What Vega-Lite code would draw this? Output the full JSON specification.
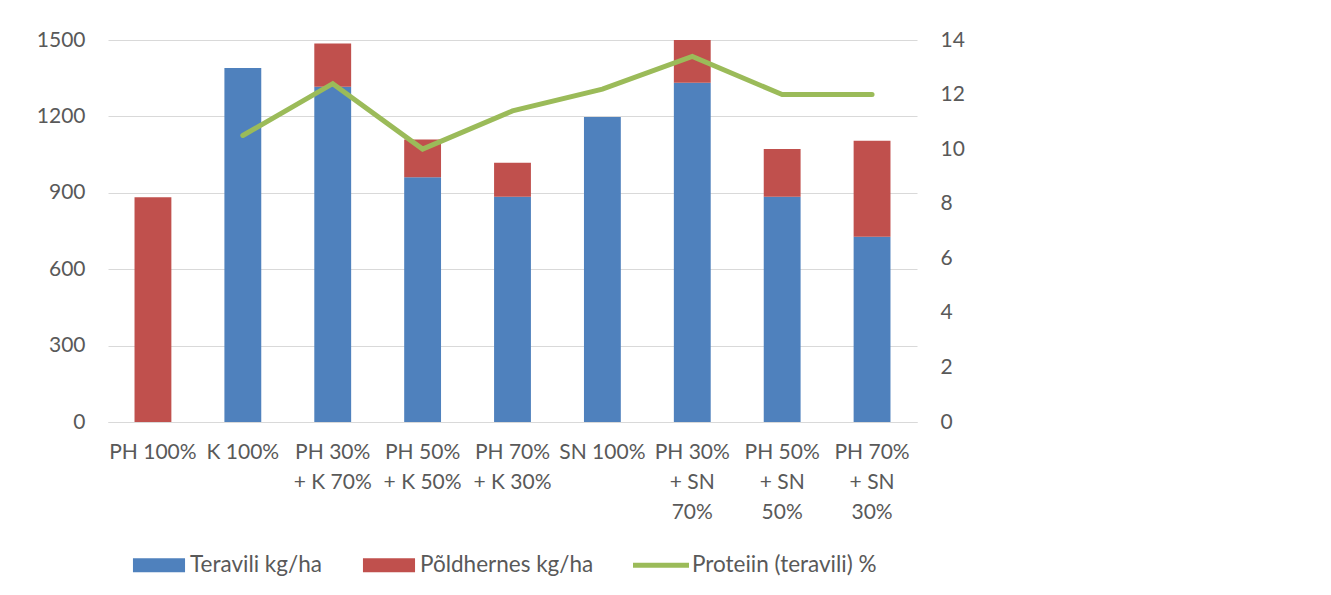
{
  "$schema": "https://vega.github.io/schema/vega-lite/v6.json",
  "width": 809,
  "height": 382,
  "autosize": {"type": "none"},
  "padding": {"left": 108, "top": 40, "right": 414, "bottom": 173},
  "background": "white",
  "config": {
    "view": {"stroke": null},
    "font": "Lato",
    "axis": {"labelFont": "Lato", "labelColor": "#595959", "labelFontSize": 21, "ticks": false, "title": null},
    "legend": {"labelFont": "Lato", "labelColor": "#595959", "labelFontSize": 22.5, "labelLimit": 0}
  },
  "datasets": {
    "bars": [
      {"cat": "PH 100%", "series": "Teravili kg/ha", "value": 0},
      {"cat": "PH 100%", "series": "Põldhernes kg/ha", "value": 883},
      {"cat": "K 100%", "series": "Teravili kg/ha", "value": 1390},
      {"cat": "K 100%", "series": "Põldhernes kg/ha", "value": 0},
      {"cat": "PH 30% + K 70%", "series": "Teravili kg/ha", "value": 1316},
      {"cat": "PH 30% + K 70%", "series": "Põldhernes kg/ha", "value": 170},
      {"cat": "PH 50% + K 50%", "series": "Teravili kg/ha", "value": 961},
      {"cat": "PH 50% + K 50%", "series": "Põldhernes kg/ha", "value": 148},
      {"cat": "PH 70% + K 30%", "series": "Teravili kg/ha", "value": 884},
      {"cat": "PH 70% + K 30%", "series": "Põldhernes kg/ha", "value": 134},
      {"cat": "SN 100%", "series": "Teravili kg/ha", "value": 1198},
      {"cat": "SN 100%", "series": "Põldhernes kg/ha", "value": 0},
      {"cat": "PH 30% + SN 70%", "series": "Teravili kg/ha", "value": 1332},
      {"cat": "PH 30% + SN 70%", "series": "Põldhernes kg/ha", "value": 168},
      {"cat": "PH 50% + SN 50%", "series": "Teravili kg/ha", "value": 884},
      {"cat": "PH 50% + SN 50%", "series": "Põldhernes kg/ha", "value": 188},
      {"cat": "PH 70% + SN 30%", "series": "Teravili kg/ha", "value": 727},
      {"cat": "PH 70% + SN 30%", "series": "Põldhernes kg/ha", "value": 377}
    ],
    "protein": [
      {"cat": "K 100%", "value": 10.5},
      {"cat": "PH 30% + K 70%", "value": 12.4},
      {"cat": "PH 50% + K 50%", "value": 10.0},
      {"cat": "PH 70% + K 30%", "value": 11.4},
      {"cat": "SN 100%", "value": 12.2},
      {"cat": "PH 30% + SN 70%", "value": 13.4},
      {"cat": "PH 50% + SN 50%", "value": 12.0},
      {"cat": "PH 70% + SN 30%", "value": 12.0}
    ]
  },
  "encoding": {
    "x": {
      "field": "cat",
      "type": "nominal",
      "scale": {
        "domain": ["PH 100%", "K 100%", "PH 30% + K 70%", "PH 50% + K 50%", "PH 70% + K 30%", "SN 100%", "PH 30% + SN 70%", "PH 50% + SN 50%", "PH 70% + SN 30%"],
        "paddingInner": 0.59,
        "paddingOuter": 0.295
      },
      "axis": {
        "labelAngle": 0,
        "labelPadding": 19,
        "labelLineHeight": 30,
        "labelBaseline": "top",
        "domainColor": "#D9D9D9",
        "domainWidth": 1,
        "labelExpr": "indexof(datum.label, ' + ') < 0 ? datum.label : (indexof(datum.label, 'SN') >= 0 ? [slice(datum.label, 0, 6), '+ SN', slice(datum.label, -3)] : [slice(datum.label, 0, 6), slice(datum.label, 7)])"
      }
    }
  },
  "layer": [
    {
      "data": {"name": "bars"},
      "mark": {"type": "bar"},
      "encoding": {
        "y": {
          "field": "value",
          "type": "quantitative",
          "stack": "zero",
          "scale": {"domain": [0, 1500], "nice": false},
          "axis": {"orient": "left", "values": [0, 300, 600, 900, 1200, 1500], "format": "d", "domain": false, "gridColor": "#D9D9D9", "labelPadding": 23}
        },
        "color": {
          "field": "series",
          "type": "nominal",
          "scale": {
            "domain": ["Teravili kg/ha", "Põldhernes kg/ha", "Proteiin (teravili) %"],
            "range": ["#4F81BD", "#C0504D", "#9BBB59"]
          },
          "legend": {
            "title": null,
            "orient": "none",
            "legendX": 23,
            "legendY": 497,
            "direction": "horizontal",
            "columns": 3,
            "padding": 0,
            "columnPadding": 39,
            "labelOffset": 3,
            "symbolSize": 3136,
            "symbolStrokeWidth": 0,
            "symbolOpacity": 1,
            "symbolType": {"expr": "datum.value == 'Proteiin (teravili) %' ? 'M-1,-0.09L1,-0.09L1,0.09L-1,0.09Z' : 'M-0.93,-0.25L0.93,-0.25L0.93,0.25L-0.93,0.25Z'"}
          }
        },
        "order": {"field": "series", "sort": "descending"}
      }
    },
    {
      "data": {"name": "protein"},
      "mark": {"type": "line", "color": "#9BBB59", "strokeWidth": 5, "strokeCap": "round", "strokeJoin": "miter"},
      "encoding": {
        "y": {
          "field": "value",
          "type": "quantitative",
          "scale": {"domain": [0, 14], "nice": false},
          "axis": {"orient": "right", "values": [0, 2, 4, 6, 8, 10, 12, 14], "domain": false, "grid": false, "labelPadding": 23}
        }
      }
    }
  ],
  "resolve": {"scale": {"y": "independent"}}
}
